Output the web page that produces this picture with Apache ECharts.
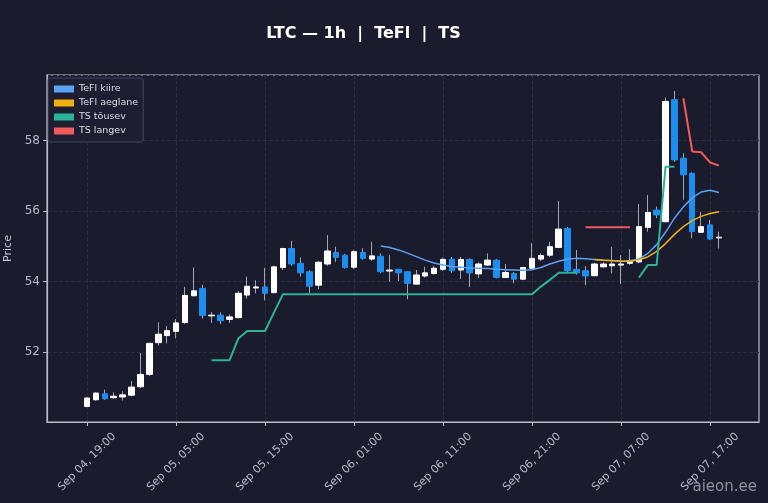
<!DOCTYPE html>
<html>
<head>
<meta charset="utf-8">
<script src="https://cdn.jsdelivr.net/npm/echarts@6/dist/echarts.min.js"></script>
<style>
  html, body { margin: 0; padding: 0; background: #1b1b2e; }
  #chart { width: 768px; height: 503px; }
</style>
</head>
<body>
<div id="chart"></div>
<script>
// hourly candles, first one is Sep 04 19:00
const firstCandle = Date.UTC(2024, 8, 4, 19);
const padHours = 4;

const opens  = [50.46,50.65,50.82,50.71,50.73,50.78,51.02,51.37,52.27,52.47,52.59,52.84,53.60,53.81,53.03,53.05,52.93,52.98,53.62,53.82,
                53.85,53.69,54.40,54.94,54.52,54.28,53.90,54.50,54.83,54.75,54.41,54.83,54.64,54.72,54.30,54.35,54.28,53.93,54.16,54.23,
                54.35,54.64,54.33,54.63,54.22,54.47,54.61,54.12,54.23,54.07,54.38,54.64,54.75,54.97,55.51,54.35,54.31,54.17,54.42,54.45,
                54.47,54.52,54.56,55.54,56.03,55.70,59.16,57.50,57.07,55.40,55.61,55.24];
const closes = [50.70,50.84,50.68,50.75,50.79,51.01,51.37,52.25,52.51,52.61,52.83,53.61,53.74,53.04,53.05,52.89,53.00,53.67,53.87,53.85,
                53.67,54.42,54.94,54.50,54.25,53.87,54.55,54.87,54.69,54.40,54.85,54.66,54.73,54.28,54.33,54.25,53.95,54.19,54.25,54.38,
                54.63,54.31,54.63,54.25,54.50,54.61,54.12,54.26,54.07,54.40,54.66,54.74,54.99,55.49,54.31,54.25,54.16,54.50,54.50,54.50,
                54.50,54.59,55.56,55.96,55.89,59.11,57.45,57.03,55.42,55.56,55.21,55.26];
const lows   = [50.44,50.62,50.65,50.67,50.63,50.75,50.98,51.32,52.19,52.25,52.39,52.80,53.58,52.95,52.83,52.80,52.83,52.95,53.52,53.67,
                53.47,53.66,54.33,54.45,54.14,53.68,53.79,54.45,54.56,54.37,54.36,54.62,54.59,54.24,54.00,54.02,53.50,53.92,54.12,54.20,
                54.30,54.25,54.07,53.85,54.10,54.45,54.09,54.10,53.95,54.05,54.36,54.58,54.70,54.95,54.25,54.20,53.90,54.15,54.40,54.23,
                53.93,54.48,54.52,55.42,55.80,55.68,57.40,56.32,55.23,55.38,55.18,54.94];
const highs  = [50.72,50.86,50.94,50.86,50.89,51.18,51.98,52.27,52.85,52.74,52.94,53.85,54.40,53.91,53.14,53.13,53.07,53.73,54.14,54.04,
                54.39,54.45,54.96,55.16,54.69,54.32,54.58,55.32,54.99,54.79,54.90,54.95,55.13,54.80,54.75,54.36,54.30,54.33,54.42,54.45,
                54.68,54.70,54.70,54.66,54.55,54.80,54.64,54.50,54.27,54.42,55.09,54.80,55.13,56.29,55.55,54.90,54.44,54.53,54.55,54.99,
                54.75,54.92,56.20,56.46,56.13,59.22,59.41,57.64,57.10,55.98,55.75,55.42];

const _ = null;
// TeFl kiire
const teflFast = [_,_,_,_,_,_,_,_,_,_,_,_,_,_,_,_,_,_,_,_,_,_,_,_,_,_,_,_,_,_,_,_,_,
                  55.01,54.97,54.90,54.81,54.71,54.61,54.53,54.47,54.43,54.41,54.39,54.38,54.37,54.35,54.34,54.33,54.32,54.34,
                  54.40,54.50,54.58,54.64,54.66,54.65,54.63,54.61,54.60,54.58,54.59,54.64,54.80,55.05,55.40,55.80,56.12,56.38,
                  56.54,56.59,56.53];
// TeFl aeglane
const teflSlow = [_,_,_,_,_,_,_,_,_,_,_,_,_,_,_,_,_,_,_,_,_,_,_,_,_,_,_,_,_,_,_,_,_,_,_,_,_,_,_,_,_,_,_,_,_,_,_,_,_,_,_,_,_,_,_,_,_,
                  54.63,54.61,54.59,54.58,54.58,54.62,54.70,54.86,55.08,55.34,55.56,55.73,55.85,55.93,55.98];
// TS tõusev
const tsUp = [_,_,_,_,_,_,_,_,_,_,_,_,_,_,
              51.77,51.77,51.77,52.39,52.60,52.60,52.60,53.12,53.64,53.64,53.64,53.64,53.64,53.64,53.64,53.64,
              53.64,53.64,53.64,53.64,53.64,53.64,53.64,53.64,53.64,53.64,53.64,53.64,53.64,53.64,53.64,53.64,
              53.64,53.64,53.64,53.64,53.64,53.86,54.05,54.25,54.25,54.25,
              _,_,_,_,_,_,
              54.11,54.47,54.47,57.26,57.26,
              _,_,_,_,_];
// TS langev
const tsDown = [_,_,_,_,_,_,_,_,_,_,_,_,_,_,_,_,_,_,_,_,_,_,_,_,_,_,_,_,_,_,_,_,_,_,_,_,_,_,_,_,_,_,_,_,_,_,_,_,_,_,_,_,_,_,_,_,
                55.54,55.54,55.54,55.54,55.54,55.54,
                _,_,_,_,_,
                59.20,57.69,57.67,57.38,57.29];

const months = ['Jan','Feb','Mar','Apr','May','Jun','Jul','Aug','Sep','Oct','Nov','Dec'];
function two(n) { return (n < 10 ? '0' : '') + n; }
function hourLabel(t) {
    const d = new Date(t);
    return months[d.getUTCMonth()] + ' ' + two(d.getUTCDate()) + ', ' + two(d.getUTCHours()) + ':00';
}

const total = opens.length + padHours * 2;
const categories = [];
for (let i = 0; i < total; i++) {
    categories.push(hourLabel(firstCandle + (i - padHours) * 3600000));
}

function padded(arr) {
    const out = [];
    for (let i = 0; i < padHours; i++) out.push(null);
    arr.forEach(v => out.push(v));
    for (let i = 0; i < padHours; i++) out.push(null);
    return out;
}

const wickData = [], bodyData = [];
for (let i = 0; i < padHours; i++) { wickData.push('-'); bodyData.push('-'); }
opens.forEach((o, i) => {
    const c = closes[i];
    wickData.push([o, c, lows[i], highs[i]]);
    bodyData.push([o, c, Math.min(o, c), Math.max(o, c)]);
});
for (let i = 0; i < padHours; i++) { wickData.push('-'); bodyData.push('-'); }

const tickEvery = (idx) => idx >= padHours && (idx - padHours) % 10 === 0;

const labelColor = '#b8b8c8';
const gridColor = '#2b2b42';
const frameColor = '#bcbcc8';
const font = 'DejaVu Sans';

const chart = echarts.init(document.getElementById('chart'));

chart.setOption({
    backgroundColor: '#1b1b2e',
    animation: false,
    textStyle: { fontFamily: font },
    graphic: [
        {
            type: 'text', x: 363.5, y: 34,
            style: { text: 'LTC — 1h  |  TeFl  |  TS', fill: '#ffffff', font: 'bold 16px "DejaVu Sans"',
                     textAlign: 'center', textVerticalAlign: 'middle' }
        },
        {
            type: 'text', x: 757, y: 487, z: 100,
            style: { text: 'aieon.ee', fill: 'rgba(205,205,215,0.65)', font: '15px "DejaVu Sans"',
                     textAlign: 'right', textVerticalAlign: 'middle' }
        }
    ],
    legend: {
        data: ['TeFl kiire', 'TeFl aeglane', 'TS tõusev', 'TS langev'],
        orient: 'vertical',
        left: 48, top: 78,
        padding: [6, 5, 6, 6],
        itemGap: 4,
        itemWidth: 20, itemHeight: 7,
        icon: 'rect',
        backgroundColor: '#1e1e33',
        borderColor: '#45455c',
        borderWidth: 1,
        borderRadius: 2,
        textStyle: { color: '#dcdce6', fontSize: 9.5, fontFamily: font },
        selectedMode: false
    },
    grid: {
        left: 47, right: 9, top: 75, bottom: 81,
        show: true,
        borderColor: frameColor,
        borderWidth: 1.2,
        backgroundColor: 'transparent',
        containLabel: false,
        outerBoundsMode: 'none'
    },
    xAxis: {
        type: 'category',
        data: categories,
        boundaryGap: true,
        axisLine: { show: true, lineStyle: { color: frameColor, width: 1.2 } },
        axisTick: { show: true, interval: tickEvery, alignWithLabel: true, length: 4, lineStyle: { color: labelColor } },
        axisLabel: {
            interval: tickEvery,
            rotate: 45,
            align: 'center',
            verticalAlign: 'middle',
            margin: 40,
            color: labelColor,
            fontSize: 11,
            fontFamily: font
        },
        splitLine: { show: true, interval: tickEvery, alignWithLabel: true, lineStyle: { color: gridColor, type: 'dashed', width: 1 } }
    },
    yAxis: {
        type: 'value',
        min: 50.02,
        max: 59.86,
        splitNumber: 5,
        scale: true,
        name: 'Price',
        nameLocation: 'middle',
        nameGap: 27,
        nameTextStyle: { color: '#c4c4d0', fontSize: 11, fontFamily: font },
        axisLine: { show: true, lineStyle: { color: frameColor, width: 1.2 } },
        axisTick: { show: true, length: 4, lineStyle: { color: labelColor } },
        axisLabel: { color: labelColor, fontSize: 12, margin: 7, showMinLabel: false, showMaxLabel: false, fontFamily: font },
        splitLine: { show: true, lineStyle: { color: gridColor, type: 'dashed', width: 1 } }
    },
    series: [
        {
            name: 'wicks',
            type: 'candlestick',
            data: wickData,
            barWidth: 1,
            z: 2,
            itemStyle: { color: '#a4a4b2', color0: '#a4a4b2', borderColor: '#a4a4b2', borderColor0: '#a4a4b2', borderWidth: 1 }
        },
        {
            name: 'candles',
            type: 'candlestick',
            data: bodyData,
            barWidth: 6,
            z: 3,
            itemStyle: { color: '#ffffff', color0: '#1c8ef0', borderColor: '#ffffff', borderColor0: '#1c8ef0', borderWidth: 1 }
        },
        {
            name: 'TeFl kiire', type: 'line', data: padded(teflFast), z: 5,
            showSymbol: false, symbol: 'none', color: '#5aa2f2',
            lineStyle: { width: 1.5, color: '#5aa2f2' }
        },
        {
            name: 'TeFl aeglane', type: 'line', data: padded(teflSlow), z: 5,
            showSymbol: false, symbol: 'none', color: '#f0b010',
            lineStyle: { width: 1.5, color: '#f0b010' }
        },
        {
            name: 'TS tõusev', type: 'line', data: padded(tsUp), z: 6,
            showSymbol: false, symbol: 'none', color: '#2bb39a',
            lineStyle: { width: 2, color: '#2bb39a' }
        },
        {
            name: 'TS langev', type: 'line', data: padded(tsDown), z: 6,
            showSymbol: false, symbol: 'none', color: '#ef5a5a',
            lineStyle: { width: 2, color: '#ef5a5a' }
        }
    ]
});
</script>
</body>
</html>
